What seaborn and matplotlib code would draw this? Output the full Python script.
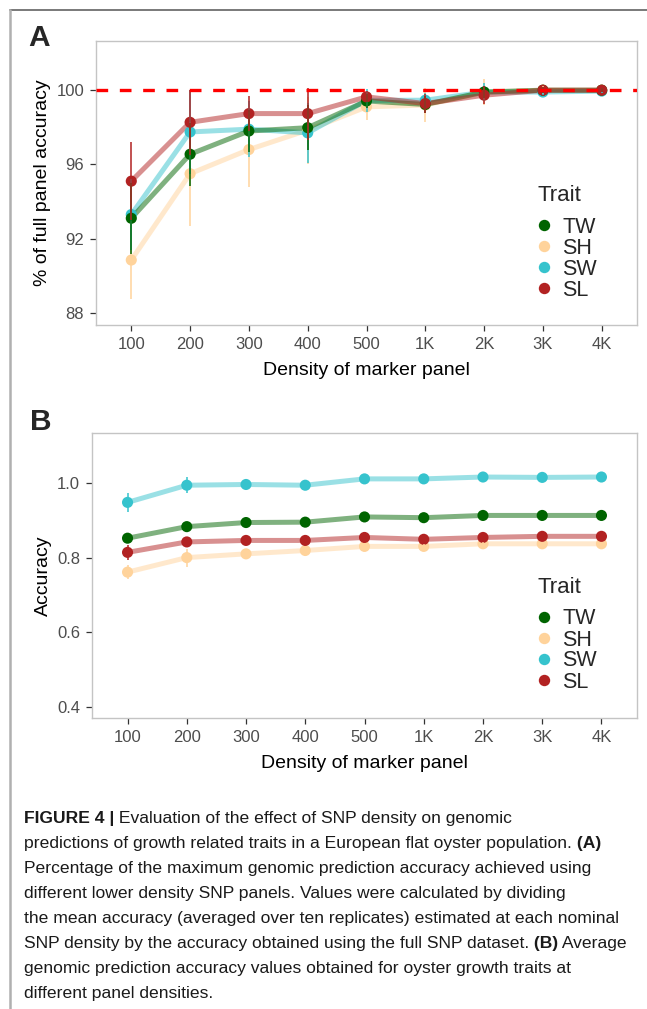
import matplotlib
matplotlib.use("Agg")
import numpy as np
import pandas as pd
import matplotlib.pyplot as plt
import seaborn as sns
from matplotlib.lines import Line2D

densities = ['100', '200', '300', '400', '500', '1K', '2K', '3K', '4K']
traits = ['TW', 'SH', 'SW', 'SL']
trait_colors = ['#006400', '#FFD39B', '#36C3CD', '#B22222']
draw_order = ['SH', 'SW', 'TW', 'SL']

# Panel A: % of full panel accuracy (mean and sd)
pct_tw = [93.1, 96.55, 97.8, 97.98, 99.42, 99.23, 99.9, 100.0, 100.0]
pct_sh = [90.85, 95.5, 96.8, 97.85, 99.1, 99.2, 99.9, 100.0, 100.0]
pct_sw = [93.3, 97.75, 97.9, 97.7, 99.45, 99.46, 99.9, 99.9, 99.95]
pct_sl = [95.1, 98.27, 98.74, 98.74, 99.64, 99.28, 99.73, 100.0, 100.0]
pct_sd_tw = [1.9, 1.7, 1.15, 1.2, 0.4, 0.45, 0.3, 0.15, 0.1]
pct_sd_sh = [2.1, 2.8, 2.0, 1.8, 0.7, 0.9, 0.7, 0.2, 0.1]
pct_sd_sw = [1.9, 2.25, 1.5, 1.6, 0.6, 0.4, 0.5, 0.15, 0.1]
pct_sd_sl = [2.1, 1.75, 0.95, 1.4, 0.3, 0.5, 0.5, 0.15, 0.1]

# Panel B: accuracy (mean and sd)
acc_tw = [0.852, 0.883, 0.894, 0.895, 0.909, 0.907, 0.913, 0.913, 0.913]
acc_sh = [0.761, 0.800, 0.810, 0.819, 0.830, 0.830, 0.837, 0.837, 0.837]
acc_sw = [0.948, 0.994, 0.996, 0.994, 1.011, 1.011, 1.016, 1.015, 1.016]
acc_sl = [0.814, 0.842, 0.846, 0.846, 0.854, 0.849, 0.854, 0.857, 0.857]
acc_sd_tw = [0.012, 0.010, 0.006, 0.006, 0.005, 0.005, 0.004, 0.004, 0.004]
acc_sd_sh = [0.018, 0.024, 0.012, 0.012, 0.008, 0.007, 0.006, 0.005, 0.005]
acc_sd_sw = [0.026, 0.022, 0.008, 0.014, 0.007, 0.007, 0.006, 0.005, 0.005]
acc_sd_sl = [0.020, 0.012, 0.008, 0.008, 0.006, 0.006, 0.005, 0.005, 0.005]


def make_df(means, sds):
    rows = []
    for t in draw_order:
        i = traits.index(t)
        for j, d in enumerate(densities):
            rows.append({'trait': t, 'pos': j, 'density': d,
                         'value': means[i][j], 'sd': sds[i][j]})
    return pd.DataFrame(rows)


df_a = make_df([pct_tw, pct_sh, pct_sw, pct_sl],
               [pct_sd_tw, pct_sd_sh, pct_sd_sw, pct_sd_sl])
df_b = make_df([acc_tw, acc_sh, acc_sw, acc_sl],
               [acc_sd_tw, acc_sd_sh, acc_sd_sw, acc_sd_sl])

sns.set_style("white")
plt.rcParams['font.family'] = ['Liberation Sans', 'DejaVu Sans']

W, H = 647, 1009
fig = plt.figure(figsize=(W / 100, H / 100), dpi=100)
palette = dict(zip(traits, trait_colors))


def fbox(l, t, r, b):
    return [l / W, 1 - b / H, (r - l) / W, (b - t) / H]


def draw_panel(ax, df, ylim, yticks, yticklabels, ylabel, leg_top, title_base, hline=None):
    if hline is not None:
        ax.axhline(hline, color='#FF0000', lw=2.4, ls=(0, (3.5, 3.5)), zorder=5)
    sns.lineplot(data=df, x='pos', y='value', hue='trait', palette=palette,
                 linewidth=3.6, alpha=0.5, legend=False, errorbar=None,
                 sort=False, ax=ax, zorder=2)
    sns.scatterplot(data=df, x='pos', y='value', hue='trait', palette=palette,
                    s=64, linewidth=0, legend=False, ax=ax, zorder=3)
    for t in draw_order:
        sub = df[df['trait'] == t]
        ax.vlines(sub['pos'], sub['value'] - sub['sd'], sub['value'] + sub['sd'],
                  color=palette[t], lw=1.1, zorder=4)
    ax.set_xlim(-0.6, 8.6)
    ax.set_ylim(*ylim)
    ax.set_xticks(range(len(densities)))
    ax.set_xticklabels(densities)
    ax.set_yticks(yticks)
    ax.set_yticklabels(yticklabels)
    ax.tick_params(axis='both', length=4, width=0.9, color='#333333',
                   labelcolor='#4D4D4D', labelsize=12, pad=4.5)
    ax.tick_params(axis='x', bottom=True)
    ax.tick_params(axis='y', left=True)
    for sp in ax.spines.values():
        sp.set_color('#C4C4C4')
        sp.set_linewidth(1.0)
    ax.set_xlabel('Density of marker panel', fontsize=14, color='black', labelpad=7)
    ax.set_ylabel(ylabel, fontsize=14, color='black', labelpad=4)
    handles = [Line2D([], [], marker='o', ls='none', color=palette[t],
                      markersize=8.2, markeredgewidth=0) for t in traits]
    ax.legend(handles, traits, loc='upper left',
              bbox_to_anchor=(533 / W, 1 - leg_top / H),
              bbox_transform=fig.transFigure, frameon=False, fontsize=15.5,
              labelspacing=0.0, handletextpad=0.35,
              handlelength=1.0, borderpad=0, borderaxespad=0)
    fig.text(538 / W, 1 - title_base / H, 'Trait', fontsize=16,
             ha='left', va='baseline')


ax_a = fig.add_axes(fbox(96, 41, 637, 325))
draw_panel(ax_a, df_a, (87.35, 102.65), [88, 92, 96, 100],
           ['88', '92', '96', '100'], '% of full panel accuracy',
           217, 201, hline=100)

ax_b = fig.add_axes(fbox(92, 433, 637, 718))
draw_panel(ax_b, df_b, (0.37, 1.134), [0.4, 0.6, 0.8, 1.0],
           ['0.4', '0.6', '0.8', '1.0'], 'Accuracy', 608.5, 593)

fig.text(28 / W, 1 - 38.5 / H, 'A', fontsize=21.5, fontweight='bold', va='center', ha='left')
fig.text(30 / W, 1 - 422 / H, 'B', fontsize=21.5, fontweight='bold', va='center', ha='left')

# frame lines
fig.add_artist(Line2D([10 / W, 1], [1 - 10 / H, 1 - 10 / H], color='#6E6E6E', lw=1.3))
fig.add_artist(Line2D([10 / W, 10 / W], [1 - 10 / H, 0], color='#B0B0B0', lw=1.8))

# caption
cap_font = ['Liberation Sans Narrow', 'Liberation Sans', 'DejaVu Sans']
cap_lines = [
    [('FIGURE 4 |', True), (' Evaluation of the effect of SNP density on genomic', False)],
    [('predictions of growth related traits in a European flat oyster population.', False), (' (A)', True)],
    [('Percentage of the maximum genomic prediction accuracy achieved using', False)],
    [('different lower density SNP panels. Values were calculated by dividing', False)],
    [('the mean accuracy (averaged over ten replicates) estimated at each nominal', False)],
    [('SNP density by the accuracy obtained using the full SNP dataset.', False), (' (B)', True), (' Average', False)],
    [('genomic prediction accuracy values obtained for oyster growth traits at', False)],
    [('different panel densities.', False)],
]
renderer = fig.canvas.get_renderer()
for k, segs in enumerate(cap_lines):
    y = 822.7 + k * 25.1
    x = 24.0
    for txt, bold in segs:
        t = fig.text(x / W, 1 - y / H, txt, fontsize=12.6, family=cap_font,
                     fontweight='bold' if bold else 'normal', color='#1A1A1A',
                     ha='left', va='baseline')
        bb = t.get_window_extent(renderer)
        x = bb.x1

fig.savefig('out.png', dpi=100)
